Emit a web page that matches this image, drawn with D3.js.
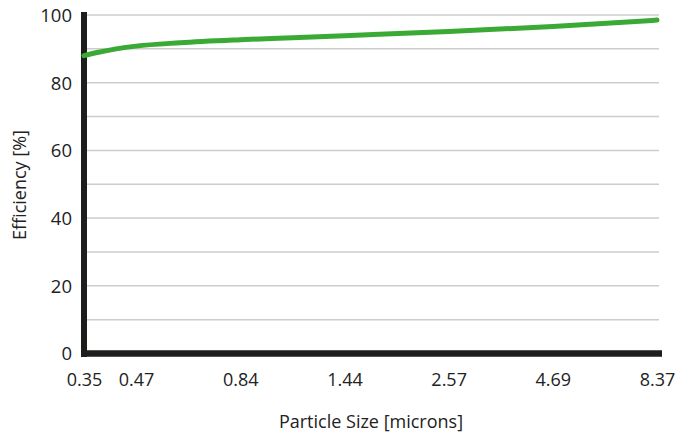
<!DOCTYPE html>
<html>
<head>
<meta charset="utf-8">
<script src="https://cdn.jsdelivr.net/npm/d3@7"></script>
<style>
  body { margin: 0; background: #fff; }
  text { font-family: "Open Sans", sans-serif; fill: #222; }
</style>
</head>
<body>
<script>
var w = 679;
var h = 434;

// Tick labels on the x axis (particle size, microns)
var sizeTicks = [0.35, 0.47, 0.84, 1.44, 2.57, 4.69, 8.37];
// Y axis ticks and gridlines (efficiency %)
var effTicks = [0, 20, 40, 60, 80, 100];
var gridValues = [10, 20, 30, 40, 50, 60, 70, 80, 90, 100];

// Efficiency curve
var curveSize = [0.35, 0.38, 0.47, 0.60, 0.84, 1.10, 1.44, 2.57, 4.69, 8.37];
var curveEff  = [88.0, 89.0, 90.8, 91.8, 92.7, 93.3, 93.9, 95.1, 96.6, 98.5];

var plotLeft = 84, plotRight = 657, plotTop = 15, plotBottom = 353.5;

// ticks are evenly spaced after the first half step
var step = (plotRight - plotLeft) / (sizeTicks.length - 1.5);
var x = d3.scaleLog()
    .domain(sizeTicks)
    .range(sizeTicks.map(function(d, i) {
        return i === 0 ? plotLeft : plotLeft + step * (i - 0.5);
    }));

var y = d3.scaleLinear()
    .domain([0, 100])
    .range([plotBottom, plotTop]);

var svg = d3.select("body")
    .append("svg")
    .attr("width", w)
    .attr("height", h);

// Gridlines
svg.selectAll("line.grid")
    .data(gridValues)
    .enter()
    .append("line")
    .attr("class", "grid")
    .attr("x1", plotLeft)
    .attr("x2", plotRight + 2)
    .attr("y1", function(d) { return y(d); })
    .attr("y2", function(d) { return y(d); })
    .attr("stroke", "#cccccc")
    .attr("stroke-width", 1.5);

// Y axis
var yAxis = d3.axisLeft(y)
    .tickValues(effTicks)
    .tickSize(0)
    .tickPadding(12);

var gy = svg.append("g")
    .attr("transform", "translate(" + plotLeft + ",0)")
    .call(yAxis);
gy.select(".domain").remove();
gy.selectAll("text")
    .style("font-size", "18.5px")
    .attr("dy", "0.35em");

// X axis
var xAxis = d3.axisBottom(x)
    .tickValues(sizeTicks)
    .tickFormat(d3.format(".2f"))
    .tickSize(0)
    .tickPadding(20);

var gx = svg.append("g")
    .attr("transform", "translate(0," + plotBottom + ")")
    .call(xAxis);
gx.select(".domain").remove();
gx.selectAll("text")
    .style("font-size", "18px");

// Heavy black axis lines
svg.append("line")
    .attr("x1", plotLeft)
    .attr("x2", plotLeft)
    .attr("y1", plotTop - 3)
    .attr("y2", plotBottom + 3.5)
    .attr("stroke", "#1d1d1b")
    .attr("stroke-width", 6);

svg.append("line")
    .attr("x1", plotLeft - 3)
    .attr("x2", plotRight + 5)
    .attr("y1", plotBottom)
    .attr("y2", plotBottom)
    .attr("stroke", "#1d1d1b")
    .attr("stroke-width", 6.5);

// Efficiency line
var line = d3.line()
    .x(function(d, i) { return x(curveSize[i]); })
    .y(function(d) { return y(d); })
    .curve(d3.curveMonotoneX);

svg.append("path")
    .datum(curveEff)
    .attr("d", line)
    .attr("fill", "none")
    .attr("stroke", "#3aaa35")
    .attr("stroke-width", 5)
    .attr("stroke-linecap", "round");

// Axis titles
svg.append("text")
    .attr("x", 371)
    .attr("y", 428)
    .attr("text-anchor", "middle")
    .style("font-size", "18px")
    .text("Particle Size [microns]");

svg.append("text")
    .attr("transform", "translate(26,185) rotate(-90)")
    .attr("text-anchor", "middle")
    .style("font-size", "18px")
    .text("Efficiency [%]");
</script>
</body>
</html>
